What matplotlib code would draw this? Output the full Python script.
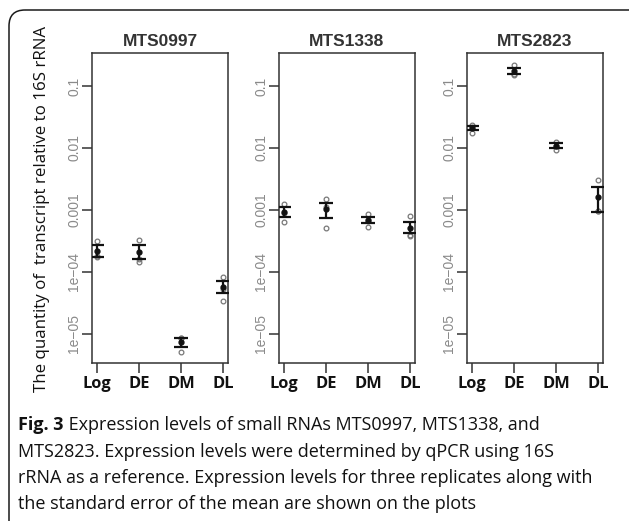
import numpy as np
import matplotlib
matplotlib.use("Agg")
import matplotlib.pyplot as plt
from matplotlib.patches import FancyBboxPatch

# ---------------- data ----------------
categories = ["Log", "DE", "DM", "DL"]
genes = ["MTS0997", "MTS1338", "MTS2823"]

mts0997_mean = [2.2e-4, 2.1e-4, 7.4e-6, 5.7e-5]
mts0997_lo = [1.75e-4, 1.62e-4, 6.2e-6, 4.5e-5]
mts0997_hi = [2.72e-4, 2.72e-4, 8.6e-6, 7.2e-5]
mts0997_reps = [[3.2e-4, 1.75e-4, 1.8e-4],
                [3.3e-4, 1.45e-4, 1.6e-4],
                [5.1e-6, 8.5e-6, 8.6e-6],
                [8.3e-5, 3.4e-5, 5.4e-5]]

mts1338_mean = [9.3e-4, 1.04e-3, 6.9e-4, 5.1e-4]
mts1338_lo = [7.8e-4, 7.4e-4, 6.1e-4, 4.3e-4]
mts1338_hi = [1.12e-3, 1.29e-3, 7.8e-4, 6.4e-4]
mts1338_reps = [[1.26e-3, 6.4e-4, 8.9e-4],
                [1.5e-3, 5.1e-4, 1.11e-3],
                [8.6e-4, 5.4e-4, 6.7e-4],
                [7.9e-4, 3.8e-4, 3.9e-4]]

mts2823_mean = [0.021, 0.175, 0.0108, 1.63e-3]
mts2823_lo = [0.0195, 0.156, 0.0100, 9.3e-4]
mts2823_hi = [0.0227, 0.195, 0.0120, 2.35e-3]
mts2823_reps = [[0.0234, 0.0174, 0.022],
                [0.218, 0.151, 0.156],
                [0.0125, 0.0093, 0.0106],
                [3.0e-3, 9.5e-4, 9.5e-4]]

ytick_vals = [1e-5, 1e-4, 1e-3, 1e-2, 1e-1]
ytick_labels = ["1e\u221205", "1e\u221204", "0.001", "0.01", "0.1"]

ylabel = "The quantity of  transcript relative to 16S rRNA"
caption_bold = "Fig. 3"
caption_lines = [
    " Expression levels of small RNAs MTS0997, MTS1338, and",
    "MTS2823. Expression levels were determined by qPCR using 16S",
    "rRNA as a reference. Expression levels for three replicates along with",
    "the standard error of the mean are shown on the plots",
]

panels = [
    (mts0997_mean, mts0997_lo, mts0997_hi, mts0997_reps),
    (mts1338_mean, mts1338_lo, mts1338_hi, mts1338_reps),
    (mts2823_mean, mts2823_lo, mts2823_hi, mts2823_reps),
]

# ---------------- figure ----------------
W, H = 629, 521
fig = plt.figure(figsize=(W / 100, H / 100), dpi=100)

# background frame with rounded corners (pixel coordinates)
bg = fig.add_axes([0, 0, 1, 1])
bg.set_xlim(0, W)
bg.set_ylim(H, 0)
bg.axis("off")
frame = FancyBboxPatch((9, 10), 640, 530, boxstyle="round,pad=0,rounding_size=16",
                       fill=False, edgecolor="#1a1a1a", linewidth=1.1)
bg.add_patch(frame)

lefts = [92, 279, 467]
top, bottom, pw = 53, 363, 136
x = np.arange(1, len(categories) + 1)

for i, (left, gene, (mean, lo, hi, reps)) in enumerate(zip(lefts, genes, panels)):
    ax = fig.add_axes([left / W, (H - bottom) / H, pw / W, (bottom - top) / H])
    ax.set_yscale("log")
    ax.set_ylim(3.4e-6, 0.34)
    ax.set_xlim(0.88, 4.12)
    mean = np.array(mean)
    yerr = np.vstack([mean - np.array(lo), np.array(hi) - mean])
    for j in range(len(categories)):
        ax.plot([x[j]] * len(reps[j]), reps[j], linestyle="none", marker="o",
                markersize=3.4, markerfacecolor="none", markeredgecolor="#777777",
                markeredgewidth=0.9, zorder=2)
    ax.errorbar(x, mean, yerr=yerr, fmt="o", color="#111111", markersize=3.5,
                ecolor="#111111", elinewidth=1.6, capsize=5, capthick=1.6, zorder=3)
    ax.set_xticks(x)
    ax.set_xticklabels(categories, fontfamily="Open Sans", fontweight="bold",
                       fontsize=11.8, color="#111111")
    ax.set_yticks(ytick_vals)
    ax.set_yticklabels(ytick_labels, fontfamily="Liberation Sans", fontsize=10,
                       color="#8a8a8a", rotation=90, va="center")
    ax.yaxis.set_minor_locator(matplotlib.ticker.NullLocator())
    ax.tick_params(axis="both", direction="out", length=7, width=1.1, color="#333333")
    ax.tick_params(axis="y", pad=0.8)
    ax.tick_params(axis="x", pad=2.5)
    for s in ax.spines.values():
        s.set_linewidth(1.1)
        s.set_color("#333333")
    ax.set_title(gene, fontfamily="Liberation Sans", fontweight="bold",
                 fontsize=12.5, color="#333333", pad=5)

# y label
fig.text(42 / W, 1 - 209 / H, ylabel, rotation=90, ha="center", va="center",
         fontfamily="Open Sans", fontsize=12.2, color="#111111")

# caption
renderer = fig.canvas.get_renderer()
cap_size = 13.0
line_y = [425, 452, 478, 504]
tb = fig.text(18 / W, 1 - line_y[0] / H, caption_bold, fontfamily="Open Sans",
              fontweight="bold", fontsize=cap_size, va="center", ha="left", color="#111111")
bb = tb.get_window_extent(renderer)
fig.text(bb.x1 / W, 1 - line_y[0] / H, caption_lines[0], fontfamily="Open Sans",
         fontsize=cap_size, va="center", ha="left", color="#111111")
for ly, line in zip(line_y[1:], caption_lines[1:]):
    fig.text(18 / W, 1 - ly / H, line, fontfamily="Open Sans", fontsize=cap_size,
             va="center", ha="left", color="#111111")

fig.savefig("out.png", dpi=100)
